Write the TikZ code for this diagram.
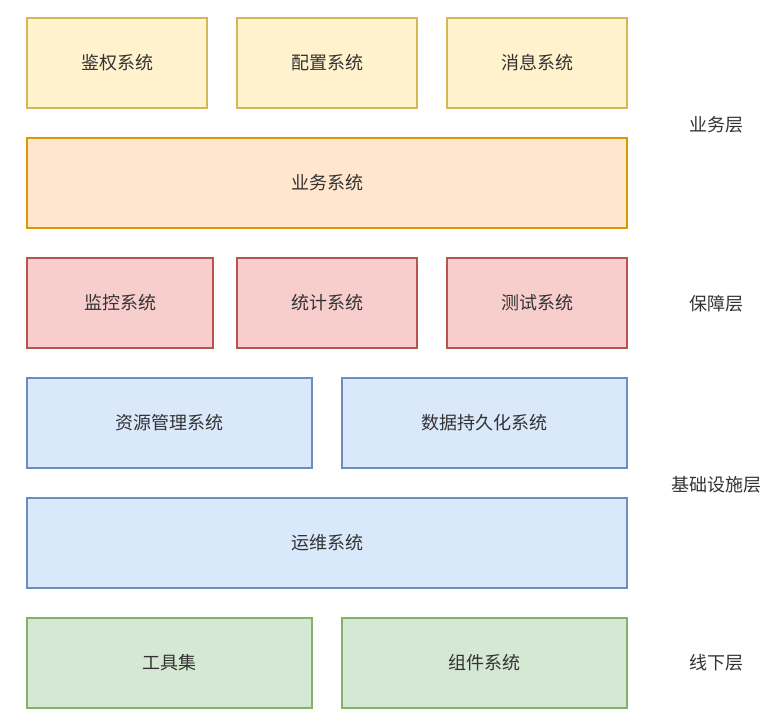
\documentclass[tikz,border=0pt]{standalone}
\usepackage{fontspec}
\setmainfont{Noto Sans CJK SC}
\begin{document}
\begin{tikzpicture}[x=1pt,y=-1pt,
  box/.style={draw, line width=2pt, minimum height=90pt, inner sep=0pt, font=\fontsize{18}{20}\selectfont, text=black!80},
  ybox/.style={box, fill=yfill, draw=yline},
  obox/.style={box, fill=ofill, draw=oline},
  rbox/.style={box, fill=rfill, draw=rline},
  bbox/.style={box, fill=bfill, draw=bline},
  gbox/.style={box, fill=gfill, draw=gline},
  layer/.style={font=\fontsize{18}{20}\selectfont, text=black!80}]
\definecolor{yfill}{HTML}{FFF2CC}\definecolor{yline}{HTML}{D6B656}
\definecolor{ofill}{HTML}{FFE6CC}\definecolor{oline}{HTML}{D79B00}
\definecolor{rfill}{HTML}{F8CECC}\definecolor{rline}{HTML}{B85450}
\definecolor{bfill}{HTML}{DAE8FC}\definecolor{bline}{HTML}{6C8EBF}
\definecolor{gfill}{HTML}{D5E8D4}\definecolor{gline}{HTML}{82B366}
\useasboundingbox (0,0) rectangle (780,727);
% row 1
\node[ybox, minimum width=180pt] (jq) at (117,63) {鉴权系统};
\node[ybox, minimum width=180pt] (pz) at (327,63) {配置系统};
\node[ybox, minimum width=180pt] (xx) at (537,63) {消息系统};
% row 2
\node[obox, minimum width=600pt] (yw) at (327,183) {业务系统};
% row 3
\node[rbox, minimum width=186pt] (jk) at (120,303) {监控系统};
\node[rbox, minimum width=180pt] (tj) at (327,303) {统计系统};
\node[rbox, minimum width=180pt] (cs) at (537,303) {测试系统};
% row 4
\node[bbox, minimum width=285pt] (zy) at (169.5,423) {资源管理系统};
\node[bbox, minimum width=285pt] (sj) at (484.5,423) {数据持久化系统};
% row 5
\node[bbox, minimum width=600pt] (ywx) at (327,543) {运维系统};
% row 6
\node[gbox, minimum width=285pt] (gj) at (169.5,663) {工具集};
\node[gbox, minimum width=285pt] (zj) at (484.5,663) {组件系统};
% layer labels
\node[layer] (l1) at (716,125) {业务层};
\node[layer] (l2) at (716,304) {保障层};
\node[layer] (l3) at (716,485) {基础设施层};
\node[layer] (l4) at (716,663) {线下层};
\end{tikzpicture}
\end{document}
